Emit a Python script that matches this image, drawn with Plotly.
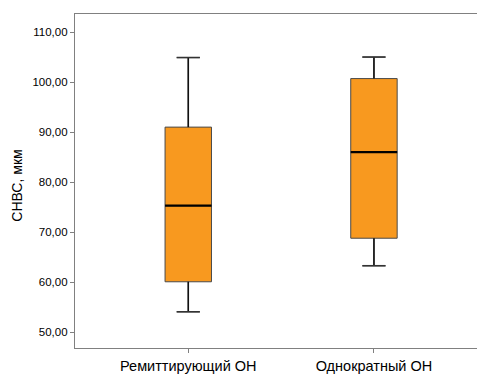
import plotly.graph_objects as go

# Group summaries (µm)
groups = ["Ремиттирующий ОН", "Однократный ОН"]
lower_whisker = [54.1, 63.3]
q1 = [60.1, 68.8]
median = [75.3, 86.0]
q3 = [91.0, 100.7]
upper_whisker = [104.9, 105.0]
y_ticks = [50, 60, 70, 80, 90, 100, 110]

positions = list(range(len(groups)))
box_w = 0.25
cap_w = 0.125

fig = go.Figure()

fig.add_trace(go.Box(
    x=positions,
    q1=q1, median=median, q3=q3,
    lowerfence=lower_whisker, upperfence=upper_whisker,
    width=box_w, whiskerwidth=0.5,
    fillcolor="#F8991F",
    line=dict(color="#4a4a4a", width=1),
    boxpoints=False, hoverinfo="skip", showlegend=False,
))

# Whiskers and caps in black, drawn over the box trace
for i, p in enumerate(positions):
    for y0, y1 in ((upper_whisker[i], q3[i]), (q1[i], lower_whisker[i])):
        fig.add_trace(go.Scatter(x=[p, p], y=[y0, y1], mode="lines",
                                 line=dict(color="#111111", width=1.6),
                                 hoverinfo="skip", showlegend=False))
    for yv in (upper_whisker[i], lower_whisker[i]):
        fig.add_trace(go.Scatter(x=[p - cap_w / 2, p + cap_w / 2], y=[yv, yv],
                                 mode="lines", line=dict(color="#333333", width=1.6),
                                 hoverinfo="skip", showlegend=False))
    # thicker median line
    fig.add_trace(go.Scatter(x=[p - box_w / 2, p + box_w / 2], y=[median[i], median[i]],
                             mode="lines", line=dict(color="#000000", width=2.2),
                             hoverinfo="skip", showlegend=False))

fig.update_layout(
    width=477, height=374,
    margin=dict(l=75, r=0, t=14, b=26),
    paper_bgcolor="white", plot_bgcolor="white",
    separators=",.",
    font=dict(family="Liberation Sans, Arial, sans-serif", color="#000000"),
    xaxis=dict(
        range=[-0.61, 1.555],
        tickmode="array", tickvals=positions, ticktext=groups,
        showgrid=False, zeroline=False,
        showline=True, linecolor="#808080", linewidth=1.2, mirror=True,
        ticks="outside", ticklen=4, tickcolor="#808080",
        tickfont=dict(size=14.5, color="#000000"),
    ),
    yaxis=dict(
        range=[46.87, 113.6],
        tickmode="array", tickvals=y_ticks, tickformat=".2f",
        showgrid=False, zeroline=False,
        showline=True, linecolor="#808080", linewidth=1.2,
        ticks="outside", ticklen=4, tickcolor="#808080",
        tickfont=dict(size=11.5, color="#000000"),
    ),
    annotations=[dict(
        text="СНВС, мкм", textangle=-90,
        xref="paper", yref="paper", x=-0.145, y=0.485,
        xanchor="center", yanchor="middle", showarrow=False,
        font=dict(size=14, color="#000000"),
    )],
)

fig.write_html("out.html")
